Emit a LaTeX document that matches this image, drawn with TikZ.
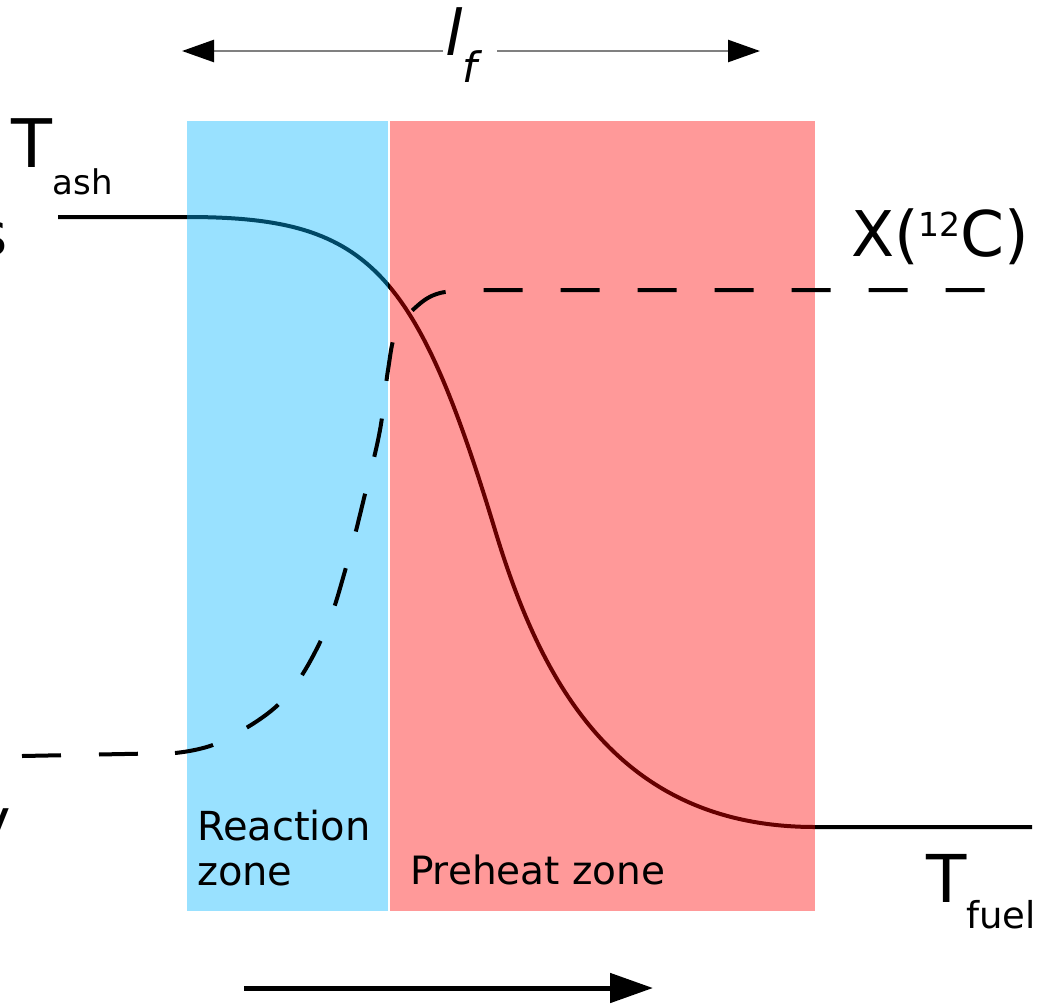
\documentclass[tikz,border=0pt]{standalone}
\usepackage{fontspec}
\setmainfont{DejaVu Sans}
\usetikzlibrary{arrows.meta}
\definecolor{zoneblue}{RGB}{0,180,255}
\definecolor{zonered}{RGB}{255,0,0}
\definecolor{linegray}{RGB}{128,128,128}
\newcommand{\fs}[1]{\fontsize{#1}{#1}\selectfont}
\tikzset{
  lbl/.style={inner sep=0pt, outer sep=0pt, text=black},
  curve/.style={line width=4pt, black},
  dashcurve/.style={line width=4pt, black, dash pattern=on 39pt off 38pt},
  zone/.style={fill opacity=0.4, draw=none},
  toparrow/.style={line width=2.5pt, linegray, -{Triangle[length=32pt,width=22pt,color=black]}},
  botarrow/.style={line width=5pt, black, -{Triangle[length=43pt,width=29pt]}}
}
\begin{document}
\begin{tikzpicture}[x=1pt,y=-1pt]
\useasboundingbox (0,0) rectangle (1042,1005);
% solid temperature curve (beneath zones)
\draw[curve] (58,217) -- (187,217)
  .. controls (367,217) and (415,266) .. (495,530)
  .. controls (540,678.5) and (615,827) .. (815,827)
  -- (1032,827);
% zones
\fill[zone, zoneblue] (187,121) rectangle (388,911);
\fill[zone, zonered] (390,121) rectangle (815,911);
% dashed composition curve (above zones)
\draw[dashcurve] (22,756) -- (175,753)
  plot[smooth, tension=0.6] coordinates {(175,753) (220,742) (282,701) (323,636) (347,564) (366,490) (380,430) (388,370) (396,332) (416,307) (440,293) (480,290)}
  -- (985,290);
% labels
\node[lbl, anchor=base west] (tash) at (12,167) {\fs{67}T\raisebox{-27pt}{\fs{34}ash}};
\node[lbl, anchor=base west] (tfuel) at (926,902) {\fs{66}T\raisebox{-26pt}{\fs{37}fuel}};
\node[lbl, anchor=base west] (xc) at (851,256) {\fs{63}X(\raisebox{20pt}{\fs{33}12}C)};
\node[lbl, anchor=base east] (s) at (8,255) {\fs{60}s};
\node[lbl, anchor=base east] (y) at (11,841) {\fs{60}y};
\node[lbl, anchor=base west] (rz) at (197,840) {\fs{40}Reaction};
\node[lbl, anchor=base west] (rz2) at (197,885) {\fs{40}zone};
\node[lbl, anchor=base west] (pz) at (410,884) {\fs{39}Preheat zone};
\node[lbl, anchor=base west] (lf) at (445,55) {\fs{63}\itshape l\raisebox{-27pt}{\fs{42}\itshape f}};
% top width arrow
\coordinate (lg1) at (443,51);
\coordinate (lg2) at (497,51);
\coordinate (la) at (182,51);
\coordinate (lb) at (760,51);
\draw[toparrow] (lg1) -- (la);
\draw[toparrow] (lg2) -- (lb);
% bottom propagation arrow
\coordinate (ba) at (244,988);
\coordinate (bb) at (653,988);
\draw[botarrow] (ba) -- (bb);
\end{tikzpicture}
\end{document}
